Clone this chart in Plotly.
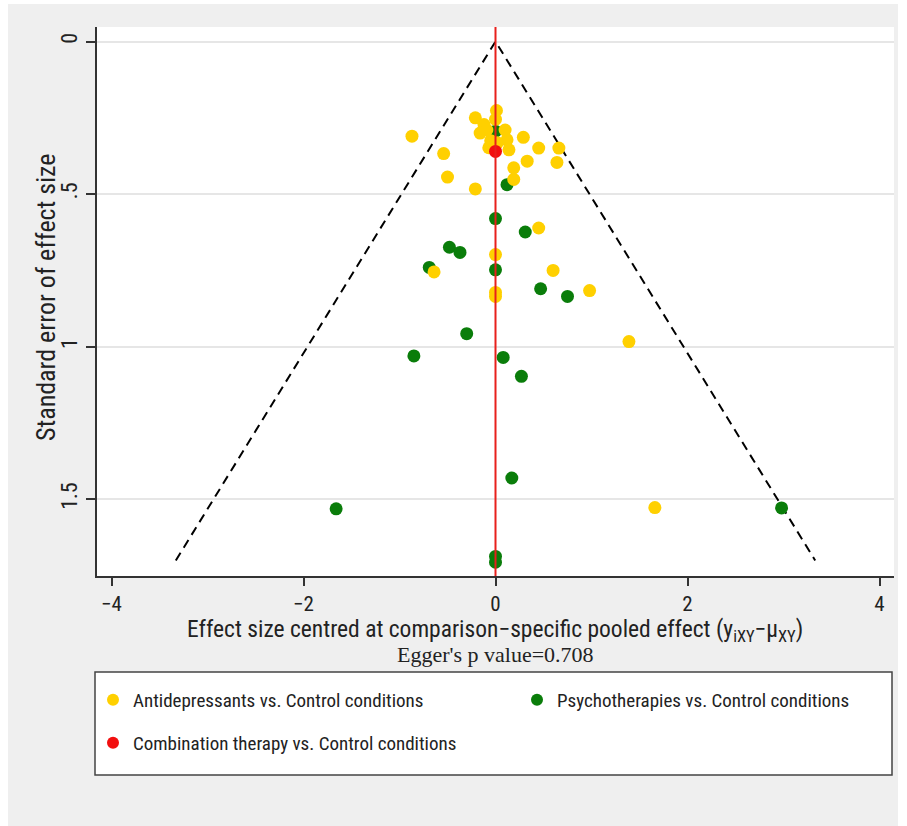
import plotly.graph_objects as go

# ---- data ----
anti_x = [-0.87, -0.21, 0.01, 0.0, -0.12, -0.16, -0.09, 0.10, 0.12, -0.05, 0.02, -0.07, 0.14,
          0.29, 0.45, 0.66, -0.54, 0.33, 0.64, 0.19, -0.50, 0.19, -0.21, 0.45, 0.0, -0.64,
          0.60, 0.0, 0.0, 0.98, 1.39, 1.66]
anti_se = [0.310, 0.250, 0.226, 0.255, 0.272, 0.300, 0.290, 0.290, 0.322, 0.325, 0.332, 0.348, 0.355,
           0.314, 0.349, 0.349, 0.367, 0.392, 0.396, 0.414, 0.444, 0.452, 0.483, 0.611, 0.698, 0.755,
           0.750, 0.822, 0.835, 0.816, 0.983, 1.527]

psy_x = [0.0, 0.12, 0.0, 0.31, -0.48, -0.37, -0.69, 0.0, 0.47, 0.75, -0.30, -0.85, 0.08,
         0.27, 0.17, -1.66, 0.0, 0.0, 2.98]
psy_se = [0.294, 0.469, 0.580, 0.624, 0.674, 0.691, 0.740, 0.748, 0.810, 0.835, 0.957, 1.030, 1.035,
          1.097, 1.430, 1.531, 1.687, 1.706, 1.528]

comb_x = [0.0]
comb_se = [0.36]

funnel_x = [-3.33, 0.0, 3.33]
funnel_se = [1.70, 0.0, 1.70]

y_tickvals = [0, 0.5, 1, 1.5]
y_ticktext = ["0", ".5", "1", "1.5"]
x_tickvals = [-4, -2, 0, 2, 4]

names = ["Antidepressants vs. Control conditions",
         "Psychotherapies vs. Control conditions",
         "Combination therapy vs. Control conditions"]
colors = ["#ffd000", "#0a7d0a", "#f20f0f"]

# ---- layout geometry ----
W, H = 907, 826
L, R, T, B = 97, 13, 27, 250
PW, PH = W - L - R, H - T - B

def px(xp):
    return (xp - L) / PW

def py(yp):
    return (H - B - yp) / PH

SANS = "Roboto Condensed, Liberation Sans Narrow, Arial Narrow, sans-serif"
SERIF = "Liberation Serif, Times New Roman, serif"

fig = go.Figure()

fig.add_trace(go.Scatter(x=funnel_x, y=funnel_se, mode="lines",
                         line=dict(color="black", width=2, dash="9px,6px"),
                         showlegend=False, hoverinfo="skip"))

fig.add_trace(go.Scatter(x=psy_x, y=psy_se, mode="markers", name=names[1],
                         marker=dict(color=colors[1], size=13, line=dict(width=0)),
                         legend="legend3"))
fig.add_trace(go.Scatter(x=anti_x, y=anti_se, mode="markers", name=names[0],
                         marker=dict(color=colors[0], size=13, line=dict(width=0)),
                         legend="legend"))
fig.add_trace(go.Scatter(x=comb_x, y=comb_se, mode="markers", name=names[2],
                         marker=dict(color=colors[2], size=13, line=dict(width=0)),
                         legend="legend2"))

shapes = [
    # red reference line at 0
    dict(type="line", xref="x", yref="paper", x0=0, x1=0, y0=0, y1=1,
         line=dict(color="#e8201c", width=2), layer="above"),
    # legend box
    dict(type="rect", xref="paper", yref="paper", x0=px(95), x1=px(892), y0=py(775), y1=py(672),
         line=dict(color="#444444", width=1.5), fillcolor="white", layer="below"),
    # white border around gray panel
    dict(type="rect", xref="paper", yref="paper", x0=px(-5), x1=px(8), y0=py(830), y1=py(-5),
         line=dict(width=0), fillcolor="white", layer="above"),
    dict(type="rect", xref="paper", yref="paper", x0=px(-5), x1=px(912), y0=py(4), y1=py(-5),
         line=dict(width=0), fillcolor="white", layer="above"),
    dict(type="rect", xref="paper", yref="paper", x0=px(898), x1=px(912), y0=py(830), y1=py(-5),
         line=dict(width=0), fillcolor="white", layer="above"),
]

annotations = [
    dict(text="Standard error of effect size", xref="paper", yref="paper",
         x=px(46), y=py(297), textangle=-90, showarrow=False,
         font=dict(family=SANS, size=26, color="#222"), xanchor="center", yanchor="middle"),
    dict(text="Effect size centred at comparison\u2212specific pooled effect (y<sub>iXY</sub>\u2212\u03bc<sub>XY</sub>)",
         xref="paper", yref="paper", x=px(495), y=py(630), showarrow=False,
         font=dict(family=SANS, size=23.5, color="#222"), xanchor="center", yanchor="middle"),
    dict(text="Egger's p value=0.708", xref="paper", yref="paper", x=px(495), y=py(654),
         showarrow=False, font=dict(family=SERIF, size=22, color="#222"),
         xanchor="center", yanchor="middle"),
]

leg_common = dict(orientation="h", xanchor="left", yanchor="middle", bgcolor="rgba(0,0,0,0)",
                  font=dict(family=SANS, size=19, color="#222"), itemsizing="constant")

fig.update_layout(
    width=W, height=H,
    margin=dict(l=L, r=R, t=T, b=B, pad=0),
    paper_bgcolor="#efefef", plot_bgcolor="white",
    shapes=shapes, annotations=annotations,
    legend=dict(x=px(93), y=py(700), **leg_common),
    legend3=dict(x=px(517), y=py(700), **leg_common),
    legend2=dict(x=px(93), y=py(743), **leg_common),
    xaxis=dict(range=[-4.151, 4.151], tickvals=x_tickvals, ticks="outside", ticklen=8,
               tickwidth=1.5, tickcolor="#333", showline=True, linecolor="#333", linewidth=1.5,
               showgrid=False, zeroline=False, tickfont=dict(family=SANS, size=21, color="#222")),
    yaxis=dict(range=[1.751, -0.0475], tickvals=y_tickvals, ticktext=y_ticktext, tickangle=-90,
               ticks="outside", ticklen=9, tickwidth=1.5, tickcolor="#333", showline=True,
               linecolor="#333", linewidth=1.5, showgrid=True, gridcolor="#e6e6e6", gridwidth=1.5,
               zeroline=False, tickfont=dict(family=SANS, size=22, color="#222")),
    hovermode=False,
)

fig.write_html("out.html", config={"displayModeBar": False},
               post_script="document.body.style.margin='0px';")
